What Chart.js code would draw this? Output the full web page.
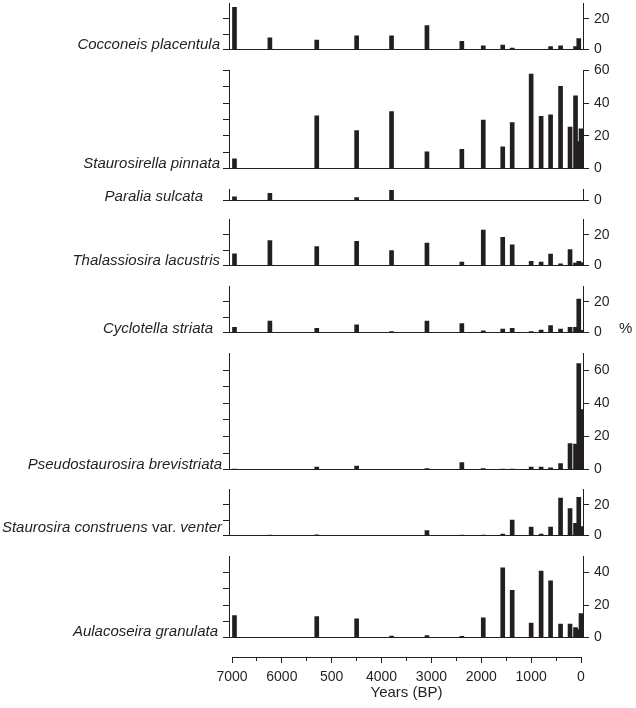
<!DOCTYPE html>
<html>
<head>
<meta charset="utf-8">
<script src="https://cdn.jsdelivr.net/npm/chart.js@4/dist/chart.umd.min.js"></script>
<style>
  body { margin: 0; width: 636px; height: 708px; position: relative; overflow: hidden; background: #fff;
         font-family: 'Liberation Sans', Arial, sans-serif; color: #231f20; }
  canvas { position: absolute; left: 0; }
  .taxon { position: absolute; font-style: italic; font-size: 15px; line-height: 16px; white-space: nowrap; text-align: right; }
  .taxon span { font-style: normal; }
  .unit { position: absolute; font-size: 15px; line-height: 16px; }
</style>
</head>
<body>
<script>
'use strict';

// sample ages (years BP)
const ages = [6950, 6240, 5300, 4500, 3800, 3090, 2390, 1960, 1570, 1380, 1000, 800, 610, 410, 220, 110, 45, 0];

// relative abundance (%)
const cocconeis      = [27.5, 7.7, 6.2, 8.9, 8.9, 15.6, 5.3, 2.5, 3, 1, 0, 0, 1.9, 2.5, 0, 2, 7.2, 0];
const staurosirella  = [5.9, 0, 32.3, 23.3, 34.9, 10.2, 11.8, 29.6, 13.3, 28.1, 57.7, 31.9, 32.8, 50.3, 25.4, 44.4, 16.5, 24.3];
const paralia        = [3.4, 6.6, 0, 2.8, 9.2, 0, 0, 0, 0, 0, 0, 0, 0, 0, 0, 0, 0, 0];
const thalassiosira  = [7.7, 16.2, 12.3, 15.8, 9.8, 14.6, 2.3, 23, 18.3, 13.5, 2.7, 2.3, 7.5, 1.2, 10.4, 1.7, 2.7, 2];
const cyclotella     = [3.4, 7.5, 2.8, 5.1, 0.6, 7.5, 5.8, 1.1, 2.3, 2.8, 0.6, 1.7, 4.5, 2.3, 3.4, 3.4, 21.7, 1.5];
const pseudostauro   = [0.3, 0, 1.5, 2.1, 0, 0.6, 4.2, 0.6, 0.2, 0.2, 1.5, 1.5, 1.1, 3.6, 15.7, 15.4, 63.8, 36.2];
const staurosira     = [0, 0.3, 0.5, 0, 0, 3.3, 0.4, 0.2, 1, 10, 5.6, 1, 5.6, 24.4, 17.5, 7.9, 24.8, 5.8];
const aulacoseira    = [13.6, 0, 13, 11.5, 1, 1.3, 0.8, 12.1, 42.9, 29.1, 9, 41, 34.9, 8.4, 8.4, 6.1, 5, 14.8];

const yearValues = [7000, 6000, 5000, 4000, 3000, 2000, 1000, 0];
const yearLabels = ['7000', '6000', '500', '4000', '3000', '2000', '1000', '0'];

const INK = '#231f20';
const FONT = 'Liberation Sans';
const PX = 1.75;   // pixels per percent
const PAD = 10;

// panel layout: baseline y, axis max, label position
const panels = [
  { name: 'Cocconeis placentula', values: cocconeis, max: 30, bottom: 53, labelRight: 220, labelY: 44 },
  { name: 'Staurosirella pinnata', values: staurosirella, max: 60, bottom: 172, labelRight: 220, labelY: 163 },
  { name: 'Paralia sulcata', values: paralia, max: 10, bottom: 204, labelRight: 203, labelY: 196 },
  { name: 'Thalassiosira lacustris', values: thalassiosira, max: 30, bottom: 269, labelRight: 220, labelY: 260 },
  { name: 'Cyclotella striata', values: cyclotella, max: 30, bottom: 336, labelRight: 213, labelY: 328 },
  { name: 'Pseudostaurosira brevistriata', values: pseudostauro, max: 70, bottom: 473, labelRight: 222, labelY: 464 },
  { name: 'Staurosira construens <span>var.</span> venter', values: staurosira, max: 30, bottom: 539, labelRight: 222, labelY: 527 },
  { name: 'Aulacoseira granulata', values: aulacoseira, max: 50, bottom: 641, labelRight: 218, labelY: 631 }
];

function makePanel(p) {
  const h = Math.round(p.max * PX);
  const cv = document.createElement('canvas');
  cv.width = 636;
  cv.height = h + 2 * PAD;
  cv.style.top = (p.bottom - h - PAD) + 'px';
  document.body.appendChild(cv);

  // no tick mark at the top end unless it carries a label
  const tickCol = c => (c.tick && c.tick.value === p.max && p.max % 20 !== 0 ? 'rgba(0,0,0,0)' : INK);

  new Chart(cv, {
    type: 'bar',
    data: {
      datasets: [{
        data: ages.map((a, i) => ({ x: a, y: p.values[i] })),
        backgroundColor: INK,
        borderWidth: 0,
        barThickness: 4
      }]
    },
    options: {
      responsive: false,
      animation: false,
      layout: { padding: { left: 223, right: 0, top: PAD, bottom: PAD } },
      plugins: { legend: { display: false }, tooltip: { enabled: false } },
      scales: {
        x: {
          type: 'linear', reverse: true, min: -40, max: 7060, offset: false,
          ticks: { display: false },
          grid: { display: false },
          border: { color: INK, width: 1 },
          afterFit: s => { s.height = 0; }
        },
        yl: {
          position: 'left', min: 0, max: p.max,
          ticks: { display: false, stepSize: 10 },
          grid: { drawOnChartArea: false, tickLength: 6, tickColor: tickCol },
          border: { color: INK, width: 1 },
          afterFit: s => { s.width = 6; }
        },
        y: {
          position: 'right', min: 0, max: p.max,
          ticks: {
            stepSize: 10, padding: 5, color: INK,
            font: { family: FONT, size: 14 },
            callback: v => (v % 20 === 0 ? String(v) : '')
          },
          grid: { drawOnChartArea: false, tickLength: 6, tickColor: tickCol },
          border: { color: INK, width: 1 },
          afterFit: s => { s.width = 53; }
        }
      }
    }
  });

  const lab = document.createElement('div');
  lab.className = 'taxon';
  lab.innerHTML = p.name;
  lab.style.right = (636 - p.labelRight) + 'px';
  lab.style.top = (p.labelY - 8) + 'px';
  document.body.appendChild(lab);
}

panels.forEach(makePanel);

const pct = document.createElement('div');
pct.className = 'unit';
pct.textContent = '%';
pct.style.left = '619px';
pct.style.top = '320px';
document.body.appendChild(pct);

// shared time axis
const axisCanvas = document.createElement('canvas');
axisCanvas.width = 636;
axisCanvas.height = 71;
axisCanvas.style.top = '637px';
document.body.appendChild(axisCanvas);

new Chart(axisCanvas, {
  type: 'scatter',
  data: { datasets: [] },
  options: {
    responsive: false,
    animation: false,
    layout: { padding: { left: 232, right: 55, top: 0, bottom: 0 } },
    plugins: { legend: { display: false }, tooltip: { enabled: false } },
    scales: {
      y: { display: false, min: 0, max: 1 },
      x: {
        type: 'linear', position: 'bottom', reverse: true, min: 0, max: 7000,
        ticks: {
          stepSize: 1000, padding: 6, color: INK, maxRotation: 0,
          font: { family: FONT, size: 14 },
          callback: v => yearLabels[yearValues.indexOf(v)]
        },
        grid: { drawOnChartArea: false, tickLength: 6, tickColor: INK },
        border: { color: INK, width: 1 },
        title: {
          display: true, text: 'Years (BP)', color: INK,
          font: { family: FONT, size: 15 },
          padding: { top: 2, bottom: 6 }
        },
        afterFit: s => { s.height = 51; }
      },
      xMinor: {
        type: 'linear', position: 'bottom', reverse: true, min: 0, max: 7000, weight: -1,
        ticks: { display: false, stepSize: 500 },
        grid: { drawOnChartArea: false, tickLength: 4, tickColor: INK },
        border: { display: false },
        afterFit: s => { s.height = 0; }
      }
    }
  }
});
</script>
</body>
</html>
